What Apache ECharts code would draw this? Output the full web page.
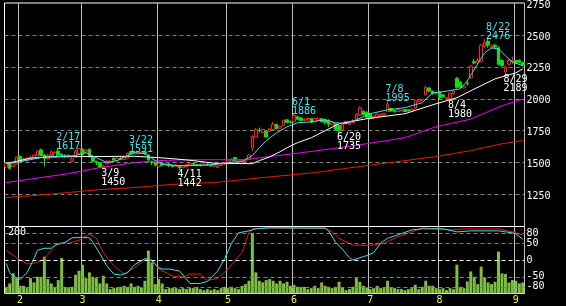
<!DOCTYPE html>
<html><head><meta charset="utf-8">
<script src="https://cdn.jsdelivr.net/npm/echarts@6/dist/echarts.min.js"></script>
<style>html,body{margin:0;padding:0;background:#000;}#c{width:566px;height:306px;}</style>
</head><body><div id="c"></div>
<script>
// trading days (2022) by month
const monthDays = [
  [1, [26,27,28,31]],
  [2, [1,2,3,4,7,8,9,10,14,15,16,17,18,21,22,24,25,28]],
  [3, [1,2,3,4,7,8,9,10,11,14,15,16,17,18,22,23,24,25,28,29,30,31]],
  [4, [1,4,5,6,7,8,11,12,13,14,15,18,19,20,21,22,25,26,27,28]],
  [5, [2,6,9,10,11,12,13,16,17,18,19,20,23,24,25,26,27,30,31]],
  [6, [1,2,3,6,7,8,9,10,13,14,15,16,17,20,21,22,23,24,27,28,29,30]],
  [7, [1,4,5,6,7,8,11,12,13,14,15,19,20,21,22,25,26,27,28,29]],
  [8, [1,2,3,4,5,8,9,10,12,15,16,17,18,19,22,23,24,25,26,29,30,31]],
  [9, [1,2,5]]
];
const opens = [1465,1500,1470,1490,1550,1515,1520,1530,1540,1555,1600,1560,1530,1555,1545,1590,1565,1555,1550,1510,1545,1570,1605,1585,1605,1545,1510,1500,1460,1490,1500,1535,1515,1535,1525,1535,1585,1580,1570,1575,1585,1560,1505,1500,1470,1495,1480,1490,1478,1470,1475,1460,1470,1480,1495,1485,1485,1478,1490,1482,1472,1462,1478,1490,1500,1505,1540,1505,1510,1510,1525,1615,1700,1755,1735,1745,1745,1760,1800,1770,1790,1835,1820,1820,1860,1850,1830,1835,1845,1820,1830,1845,1835,1830,1795,1805,1790,1760,1805,1800,1815,1840,1870,1900,1895,1880,1850,1860,1865,1870,1900,1925,1910,1900,1905,1915,1915,1905,1925,1980,1990,2030,2085,2060,2040,2055,2030,2000,2000,2040,2160,2130,2085,2120,2165,2290,2280,2290,2410,2450,2400,2420,2400,2300,2210,2270,2290,2300,2300,2285];
const closes = [1495,1455,1490,1545,1510,1530,1535,1545,1560,1590,1555,1530,1560,1585,1580,1560,1550,1548,1560,1530,1590,1610,1565,1600,1550,1510,1500,1465,1475,1510,1510,1520,1535,1525,1545,1575,1570,1578,1585,1585,1570,1520,1500,1480,1490,1480,1490,1475,1470,1480,1460,1475,1485,1495,1485,1480,1478,1488,1482,1475,1485,1475,1490,1500,1515,1525,1515,1515,1520,1525,1560,1705,1760,1750,1760,1700,1765,1800,1765,1785,1830,1815,1815,1870,1840,1830,1840,1845,1815,1845,1845,1820,1815,1800,1810,1760,1750,1800,1820,1815,1830,1880,1930,1875,1855,1845,1865,1880,1875,1885,1960,1905,1900,1915,1910,1900,1905,1920,1985,1990,1995,2090,2060,2040,2050,2005,2015,2010,2045,2060,2090,2090,2100,2115,2255,2280,2300,2420,2440,2420,2415,2405,2270,2260,2250,2300,2300,2280,2285,2265];
const lows = [1455,1445,1465,1485,1500,1510,1515,1525,1535,1550,1550,1470,1525,1550,1540,1555,1545,1540,1545,1505,1540,1560,1555,1575,1540,1500,1480,1460,1450,1485,1495,1515,1510,1520,1520,1530,1560,1565,1565,1570,1560,1515,1480,1470,1465,1470,1475,1465,1460,1465,1442,1455,1465,1475,1478,1472,1470,1475,1475,1468,1465,1458,1472,1485,1495,1500,1510,1500,1500,1505,1520,1590,1695,1735,1730,1695,1740,1755,1760,1765,1785,1810,1805,1815,1830,1825,1825,1830,1810,1815,1825,1815,1800,1780,1790,1755,1735,1755,1800,1795,1810,1835,1865,1870,1850,1840,1845,1855,1858,1865,1895,1895,1890,1895,1900,1895,1900,1900,1920,1975,1980,2025,2050,2030,2030,2000,2005,1990,1980,2030,2080,2085,2080,2105,2160,2270,2270,2285,2400,2400,2390,2395,2260,2250,2189,2260,2270,2270,2275,2255];
const highs = [1500,1505,1500,1550,1555,1540,1545,1555,1565,1595,1610,1565,1570,1595,1590,1617,1575,1565,1565,1540,1600,1615,1612,1608,1610,1550,1515,1505,1480,1520,1520,1540,1545,1545,1550,1580,1591,1590,1590,1590,1590,1565,1515,1505,1495,1500,1495,1495,1485,1485,1480,1480,1490,1500,1500,1490,1492,1495,1495,1488,1490,1480,1495,1505,1520,1535,1545,1520,1525,1530,1565,1715,1770,1775,1765,1750,1770,1820,1805,1790,1840,1840,1830,1886,1870,1860,1850,1855,1850,1850,1855,1850,1845,1840,1815,1810,1800,1805,1830,1825,1840,1885,1940,1910,1900,1890,1870,1890,1885,1890,1995,1930,1915,1925,1918,1920,1920,1925,1990,2000,2000,2100,2090,2065,2055,2060,2040,2015,2050,2070,2170,2140,2110,2140,2265,2310,2320,2430,2470,2476,2425,2430,2410,2310,2260,2310,2330,2305,2310,2290];
const volumes = [20,30,60,46,23,23,16,46,33,50,50,110,43,30,20,40,106,20,16,20,56,68,86,46,63,50,46,30,53,30,13,16,18,20,23,20,30,20,23,18,38,128,93,28,43,30,13,16,16,16,13,16,13,16,16,20,13,10,13,10,13,10,16,20,16,20,16,13,23,28,38,181,63,38,33,40,43,38,30,38,30,35,23,26,20,20,20,13,16,23,16,33,23,20,16,20,35,18,10,13,20,46,35,23,18,13,16,23,16,16,38,18,16,13,13,10,13,16,26,13,20,38,23,23,16,13,16,10,16,13,86,20,16,36,66,50,28,80,48,33,28,35,125,60,58,33,40,38,30,33];
// moving averages: [dayIndex, value]
const maShort = [[0,1492],[4,1508],[10,1539],[15,1547],[20,1555],[23,1578],[26,1539],[29,1500],[32,1516],[35,1555],[37,1578],[40,1570],[43,1516],[46,1484],[50,1477],[55,1477],[60,1484],[64,1500],[68,1508],[71,1555],[73,1617],[75,1672],[78,1734],[81,1781],[84,1812],[88,1820],[92,1836],[95,1812],[98,1805],[101,1836],[105,1883],[110,1914],[115,1930],[120,1969],[123,2047],[126,2055],[131,2078],[133,2141],[136,2273],[138,2359],[140,2398],[142,2391],[144,2336],[146,2289],[149,2258]];
const maMid = [[0,1495],[3,1510],[7,1535],[12,1545],[21,1547],[37,1550],[44,1539],[48,1531],[54,1516],[60,1495],[71,1492],[73,1516],[76,1545],[79,1585],[81,1617],[84,1656],[88,1695],[92,1750],[96,1805],[104,1844],[115,1883],[124,1961],[130,2008],[134,2063],[141,2156],[147,2203],[149,2234]];
const maLong = [[0,1344],[8,1375],[18,1414],[27,1461],[37,1500],[44,1516],[52,1523],[70,1523],[71,1531],[83,1570],[94,1609],[104,1648],[115,1695],[124,1781],[134,1841],[143,1945],[149,1998]];
const maVeryLong = [[0,1227],[8,1242],[18,1266],[27,1289],[37,1305],[47,1328],[52,1336],[60,1344],[74,1383],[89,1422],[104,1477],[115,1516],[124,1547],[134,1594],[143,1648],[149,1672]];
// oscillator
const oscFast = [[0,-10],[1,-38],[2,-48],[4,-58],[5,-48],[6,-38],[8,4],[9,29],[11,35],[13,35],[14,44],[17,53],[19,66],[22,68],[24,66],[25,53],[27,19],[29,-17],[31,-42],[33,-45],[35,-38],[37,-14],[40,4],[42,-2],[44,-23],[45,-27],[47,-27],[50,-33],[53,-70],[56,-70],[58,-64],[61,-33],[63,4],[65,50],[67,81],[70,87],[72,93],[76,96],[92,95],[93,87],[95,53],[97,32],[99,7],[100,0],[103,10],[104,13],[106,22],[108,50],[110,65],[113,75],[117,90],[120,93],[126,93],[130,84],[134,87],[142,87],[146,81],[147,78],[149,62]];
const oscSlow = [[0,29],[3,7],[6,-12],[9,-8],[11,4],[13,29],[15,50],[18,50],[21,59],[24,78],[26,65],[28,22],[31,-17],[34,-42],[37,-23],[40,1],[42,1],[44,-27],[48,-48],[51,-51],[53,-42],[56,-42],[58,-61],[61,-55],[64,-27],[68,22],[70,81],[71,93],[75,96],[92,95],[94,84],[96,65],[100,44],[105,44],[109,50],[113,69],[117,84],[120,96],[128,90],[132,93],[142,93],[146,84],[149,75]];
const oscLevels = [80,50,0,-50,-80];
const priceTicks = [1250,1500,1750,2000,2250,2500,2750];
const highDates = ['2/17','3/22','6/1','7/8','8/22'];
const highVals = [1617,1591,1886,1995,2476];
const lowDates = ['3/9','4/11','6/20','8/4','8/29'];
const lowVals = [1450,1442,1735,1980,2189];
const volMaxLabel = '200';

const dates = [], monthStart = [];
monthDays.forEach(([m, days]) => days.forEach((d, k) => { dates.push(m + '/' + d); monthStart.push(k === 0 && m !== 1); }));
const ohlc = opens.map((o, i) => [o, closes[i], lows[i], highs[i]]);

const FONT = "'DejaVu Sans Mono', monospace";
const isStart = (i) => monthStart[i];
const chart = echarts.init(document.getElementById('c'), null, {renderer: 'canvas'});
const lineS = (data, color, xi, yi, z) => ({type: 'line', data, xAxisIndex: xi, yAxisIndex: yi, showSymbol: false, symbol: 'none', silent: true, z: z || 3, lineStyle: {color, width: 1}});
chart.setOption({
  animation: false,
  backgroundColor: '#000',
  grid: [
    {left: 4.5, top: 2.5, width: 520, height: 224, show: true, borderColor: '#fff', borderWidth: 1, backgroundColor: 'transparent'},
    {left: 4.5, top: 226.5, width: 520, height: 67, show: true, borderColor: '#fff', borderWidth: 1, backgroundColor: 'transparent'}
  ],
  xAxis: [
    {type: 'category', gridIndex: 0, data: dates, boundaryGap: true, axisLine: {show: false}, axisTick: {show: false}, axisLabel: {show: false},
     splitLine: {show: true, interval: isStart, lineStyle: {color: '#c0c0c0', width: 1}}},
    {type: 'category', gridIndex: 1, data: dates, boundaryGap: true, axisLine: {show: false}, axisTick: {show: false},
     axisLabel: {show: true, interval: isStart, formatter: (v) => v.split('/')[0], color: '#f0f040', fontFamily: FONT, fontSize: 10, margin: 2},
     splitLine: {show: true, interval: isStart, lineStyle: {color: '#c0c0c0', width: 1}}}
  ],
  yAxis: [
    {type: 'value', gridIndex: 0, position: 'right', min: 1000, max: 2750, interval: 250, axisLine: {show: false}, axisTick: {show: false},
     axisLabel: {color: '#fff', fontFamily: FONT, fontSize: 10, margin: 2, verticalAlign: 'top', lineHeight: 4, formatter: (v) => priceTicks.includes(v) ? String(v) : ''},
     splitLine: {show: true, showMinLine: false, showMaxLine: false, lineStyle: {color: '#808080', type: [4, 3], width: 1}}},
    {type: 'value', gridIndex: 1, position: 'right', min: -100, max: 100, interval: 10, axisLine: {show: false}, axisTick: {show: false},
     axisLabel: {color: '#fff', fontFamily: FONT, fontSize: 10, margin: 2, formatter: (v) => oscLevels.includes(v) ? String(v) : ''},
     splitLine: {show: false}},
    {type: 'value', gridIndex: 1, min: 0, max: 200, show: false, splitLine: {show: false}}
  ],
  graphic: [
    {type: 'text', left: 8, top: 227, z: 10, style: {text: volMaxLabel, fill: '#fff', font: '10px ' + FONT}}
  ],
  series: [
    {type: 'bar', xAxisIndex: 1, yAxisIndex: 2, data: volumes, barCategoryGap: '15%', silent: true, z: 1, itemStyle: {color: '#80c040'}},
    {type: 'candlestick', xAxisIndex: 0, yAxisIndex: 0, data: ohlc, barWidth: 3, silent: true, z: 2,
     itemStyle: {color: '#000', color0: '#10e010', borderColor: '#ff2020', borderColor0: '#10e010', borderWidth: 1},
     markPoint: {symbol: 'rect', symbolSize: 1, silent: true, itemStyle: {color: 'rgba(0,0,0,0)'},
       data: highDates.map((d, k) => ({coord: [d, highVals[k]], value: highVals[k],
          label: {show: true, position: 'inside', align: 'left', verticalAlign: 'bottom', offset: [-2, 3], color: '#40e8f0', fontFamily: FONT, fontSize: 10, lineHeight: 9, formatter: d + '\n' + highVals[k]}}))
        .concat(lowDates.map((d, k) => ({coord: [d, lowVals[k]], value: lowVals[k],
          label: {show: true, position: 'inside', align: 'left', verticalAlign: 'top', offset: [-2, 0], color: '#fff', fontFamily: FONT, fontSize: 10, lineHeight: 9, formatter: d + '\n' + lowVals[k]}})))}},
    lineS(maVeryLong, '#e02000', 0, 0),
    lineS(maLong, '#f000f0', 0, 0),
    lineS(maMid, '#ffffff', 0, 0),
    lineS(maShort, '#40e0f0', 0, 0),
    Object.assign(lineS(oscSlow, '#e02000', 1, 1, 4), {
      markLine: {silent: true, symbol: 'none', label: {show: false},
        data: oscLevels.map(v => ({yAxis: v, lineStyle: {color: v === 0 ? '#ffffff' : '#808080', type: [4, 3], width: 1}}))}}),
    lineS(oscFast, '#40e0f0', 1, 1, 4)
  ]
});
</script></body></html>
